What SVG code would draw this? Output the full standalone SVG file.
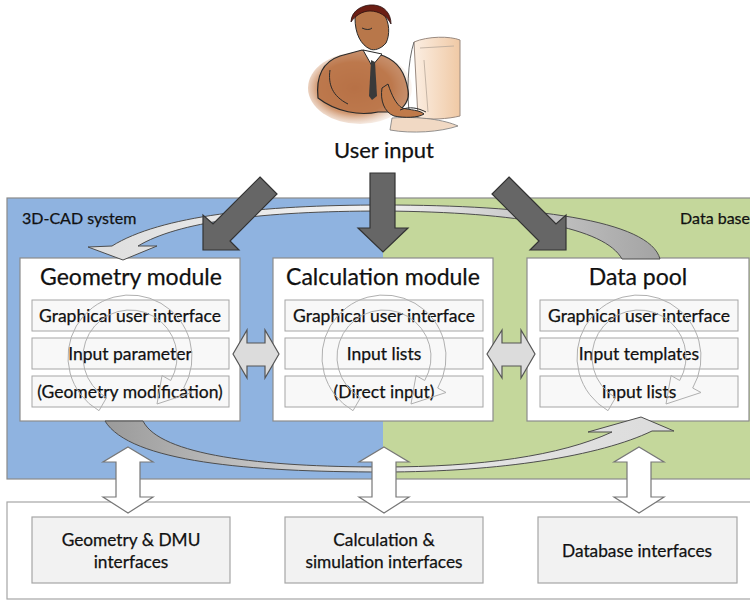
<svg xmlns="http://www.w3.org/2000/svg" width="750" height="600" viewBox="0 0 750 600">
  <style>
    text { font-family: Lato, "Liberation Sans", sans-serif; fill: #111111; stroke: #111111; stroke-width: 0.25; }
    .title { font-size: 23px; text-anchor: middle; }
    .item { font-size: 17.5px; text-anchor: middle; }
    .iface { font-size: 17.3px; text-anchor: middle; }
    .label { font-size: 16px; }
    .module { fill: #ffffff; stroke: #8c8c8c; stroke-width: 1.2; }
    .sub { fill: #f8f8f8; stroke: #a6a6a6; stroke-width: 1; }
    .ibox { fill: #f2f2f2; stroke: #a6a6a6; stroke-width: 1.2; }
    .cycle { fill: none; stroke: #b0b0b0; stroke-width: 1; }
    .push { fill: #666666; stroke: #333333; stroke-width: 1.2; stroke-linejoin: miter; }
    .swap { fill: #dcdcdc; stroke: #555555; stroke-width: 1.2; }
    .io { fill: #ffffff; stroke: #777777; stroke-width: 1.2; }
  </style>
  <defs>
    <linearGradient id="gTop" x1="660" y1="0" x2="90" y2="0" gradientUnits="userSpaceOnUse">
      <stop offset="0" stop-color="#a3a3a3"/>
      <stop offset="0.5" stop-color="#f2f2f2"/>
      <stop offset="1" stop-color="#dedede"/>
    </linearGradient>
    <linearGradient id="gBottom" x1="105" y1="0" x2="675" y2="0" gradientUnits="userSpaceOnUse">
      <stop offset="0" stop-color="#9a9a9a"/>
      <stop offset="0.5" stop-color="#e6e6e6"/>
      <stop offset="1" stop-color="#dcdcdc"/>
    </linearGradient>
    <radialGradient id="suit" cx="0.45" cy="0.5" r="0.6">
      <stop offset="0" stop-color="#b0643a"/>
      <stop offset="0.6" stop-color="#c9875a"/>
      <stop offset="1" stop-color="#f3e2d4" stop-opacity="0"/>
    </radialGradient>
    <linearGradient id="screen" x1="0" y1="0" x2="1" y2="0">
      <stop offset="0" stop-color="#fbeee2"/>
      <stop offset="1" stop-color="#f0c9a5"/>
    </linearGradient>
    <!-- circular "iterate" arrow, centred on 0,0 -->
    <path id="cycleArrow" d="M -31,53.7 A 62 62 0 1 1 53.7,31 L 62,35.5 L 27,47 L 32,18.5 L 40.7,23.5 A 47 47 0 1 0 -23.5,40.7 Z"/>
  </defs>

  <!-- user at the workstation -->
  <g id="user">
    <ellipse cx="360" cy="88" rx="52" ry="36" fill="url(#suit)" fill-opacity="0.85"/>
    <!-- monitor -->
    <path d="M 414,42 C 428,36 450,36 460,40 L 460,116 C 448,119 430,120 418,118 Z" fill="url(#screen)" stroke="#9a8a80" stroke-width="1"/>
    <path d="M 414,42 C 408,60 406,95 410,118 L 418,118" fill="none" stroke="#6a6a6a" stroke-width="1"/>
    <path d="M 420,48 L 454,46 M 424,60 L 428,112" fill="none" stroke="#b8a89a" stroke-width="0.8"/>
    <path d="M 392,118 C 420,116 445,120 458,126 C 440,132 412,134 390,130 Z" fill="#f1d9c4" stroke="#7a7a7a" stroke-width="0.8"/>
    <!-- body -->
    <path d="M 318,98 C 316,78 322,62 340,56 L 362,50 L 384,56 C 398,62 405,72 408,90 C 410,100 404,108 396,112 L 378,112 C 360,116 336,112 318,98 Z" fill="#b56d40" fill-opacity="0.75" stroke="#2a2a2a" stroke-width="1.2"/>
    <path d="M 330,70 C 328,84 332,96 348,104" fill="none" stroke="#2a2a2a" stroke-width="1"/>
    <!-- shirt and tie -->
    <path d="M 363,50 L 372,66 L 382,54 Z" fill="#ffffff" stroke="#2a2a2a" stroke-width="1"/>
    <path d="M 371,60 L 375,62 L 377,96 L 372,100 L 369,96 Z" fill="#3a3a3a"/>
    <!-- arm and hand -->
    <path d="M 388,84 C 392,96 396,104 402,108 C 410,110 420,110 424,114 C 418,118 404,118 394,116 C 384,112 380,100 382,88 Z" fill="#c07a4a" stroke="#2a2a2a" stroke-width="1"/>
    <path d="M 400,110 C 410,106 418,108 426,112" fill="none" stroke="#2a2a2a" stroke-width="1"/>
    <!-- head -->
    <path d="M 355,18 C 357,9 372,7 383,13 C 390,22 390,35 386,43 C 381,49 374,51 370,49 C 361,45 355,34 355,18 Z" fill="#b8774a" stroke="#2a2a2a" stroke-width="1"/>
    <path d="M 351,22 C 351,10 364,4 374,5 C 385,6 391,14 391,24 C 387,16 379,11 370,11 C 362,11 355,16 351,22 Z" fill="#6b1e14" stroke="#2a1010" stroke-width="0.8"/>
    <path d="M 362,28 C 366,30 370,30 372,28" fill="none" stroke="#2a2a2a" stroke-width="1"/>
    <text x="384" y="158" style="font-size:22px; text-anchor:middle;">User input</text>
  </g>

  <!-- system frame: 3D-CAD system and data base -->
  <g id="frame">
    <rect x="7" y="198" width="376" height="281" fill="#8fb3e0"/>
    <rect x="383" y="198" width="380" height="281" fill="#c4d79b"/>
    <rect x="7" y="198" width="760" height="281" fill="none" stroke="#8a8a8a" stroke-width="1.2"/>
    <text class="label" x="22" y="224">3D-CAD system</text>
    <text class="label" x="750" y="224" text-anchor="end">Data base</text>
  </g>

  <!-- interface panel -->
  <g id="interfaces">
    <rect x="7" y="502" width="760" height="97" fill="#ffffff" stroke="#a6a6a6" stroke-width="1.2"/>
  </g>

  <g id="geometry-module">
    <rect class="module" x="20" y="258" width="220" height="163"/>
    <text class="title" x="131" y="285">Geometry module</text>
    <rect class="sub" x="32" y="300" width="197" height="31"/>
    <rect class="sub" x="32" y="338" width="197" height="31"/>
    <rect class="sub" x="32" y="376" width="197" height="31"/>
    <text class="item" x="130" y="322">Graphical user interface</text>
    <text class="item" x="130" y="360">Input parameter</text>
    <text class="item" x="130" y="398">(Geometry modification)</text>
    <use href="#cycleArrow" class="cycle" transform="translate(130,357)"/>
  </g>

  <g id="calculation-module">
    <rect class="module" x="273" y="258" width="220" height="163"/>
    <text class="title" x="383" y="285">Calculation module</text>
    <rect class="sub" x="285" y="300" width="198" height="31"/>
    <rect class="sub" x="285" y="338" width="198" height="31"/>
    <rect class="sub" x="285" y="376" width="198" height="31"/>
    <text class="item" x="384" y="322">Graphical user interface</text>
    <text class="item" x="384" y="360">Input lists</text>
    <text class="item" x="384" y="398">(Direct input)</text>
    <use href="#cycleArrow" class="cycle" transform="translate(384,357)"/>
  </g>

  <g id="data-pool">
    <rect class="module" x="527" y="258" width="222" height="163"/>
    <text class="title" x="638" y="285">Data pool</text>
    <rect class="sub" x="540" y="300" width="198" height="31"/>
    <rect class="sub" x="540" y="338" width="198" height="31"/>
    <rect class="sub" x="540" y="376" width="198" height="31"/>
    <text class="item" x="639" y="322">Graphical user interface</text>
    <text class="item" x="639" y="360">Input templates</text>
    <text class="item" x="639" y="398">Input lists</text>
    <use href="#cycleArrow" class="cycle" transform="translate(639,357)"/>
  </g>

  <g id="geometry-interfaces">
    <rect class="ibox" x="32" y="517" width="198" height="66"/>
    <text class="iface" x="131" y="546">Geometry &amp; DMU</text>
    <text class="iface" x="131" y="568">interfaces</text>
  </g>
  <g id="calculation-interfaces">
    <rect class="ibox" x="285" y="517" width="198" height="66"/>
    <text class="iface" x="384" y="546">Calculation &amp;</text>
    <text class="iface" x="384" y="568">simulation interfaces</text>
  </g>
  <g id="database-interfaces">
    <rect class="ibox" x="538" y="517" width="199" height="66"/>
    <text class="iface" x="637" y="557">Database interfaces</text>
  </g>

  <g id="connectors">
    <!-- data pool back to geometry module -->
    <path d="M 622,259 C 605,228 520,212 383,211 C 260,211 178,222 138,246 L 157,246 L 123,260 L 88,247 L 112,246 C 160,216 260,205 383,205 C 530,205 650,220 660,259 Z" fill="url(#gTop)" stroke="#4d4d4d" stroke-width="1"/>
    <!-- geometry module on to data pool -->
    <path d="M 105,421 C 130,462 250,472 383,472 C 500,472 600,456 652,431 L 674,431 L 641,417 L 588,432 L 612,432 C 560,456 480,467 383,467 C 260,467 160,455 143,421 Z" fill="url(#gBottom)" stroke="#4d4d4d" stroke-width="1"/>

    <!-- user input into the modules -->
    <polygon class="push" points="260,177 277,194 230,241 239,250 203,250 203,215 213,224"/>
    <polygon class="push" points="370,173 395,173 395,228 408,228 383,252 358,228 370,228"/>
    <polygon class="push" points="509,177 556,224 566,215 566,250 530,250 539,241 492,194"/>

    <!-- exchange between modules -->
    <polygon class="swap" points="233,354 247,330 247,343 265,343 265,330 279,354 265,378 265,366 247,366 247,378"/>
    <polygon class="swap" points="487,354 502,330 502,343 521,343 521,330 535,354 521,378 521,366 502,366 502,378"/>

    <!-- modules to interfaces -->
    <polygon class="io" points="128,447 153,462 140,462 140,497 153,497 128,513 103,497 116,497 116,462 103,462"/>
    <polygon class="io" points="384,447 409,462 396,462 396,497 409,497 384,513 359,497 372,497 372,462 359,462"/>
    <polygon class="io" points="639,447 664,462 651,462 651,497 664,497 639,513 614,497 627,497 627,462 614,462"/>
  </g>
</svg>
